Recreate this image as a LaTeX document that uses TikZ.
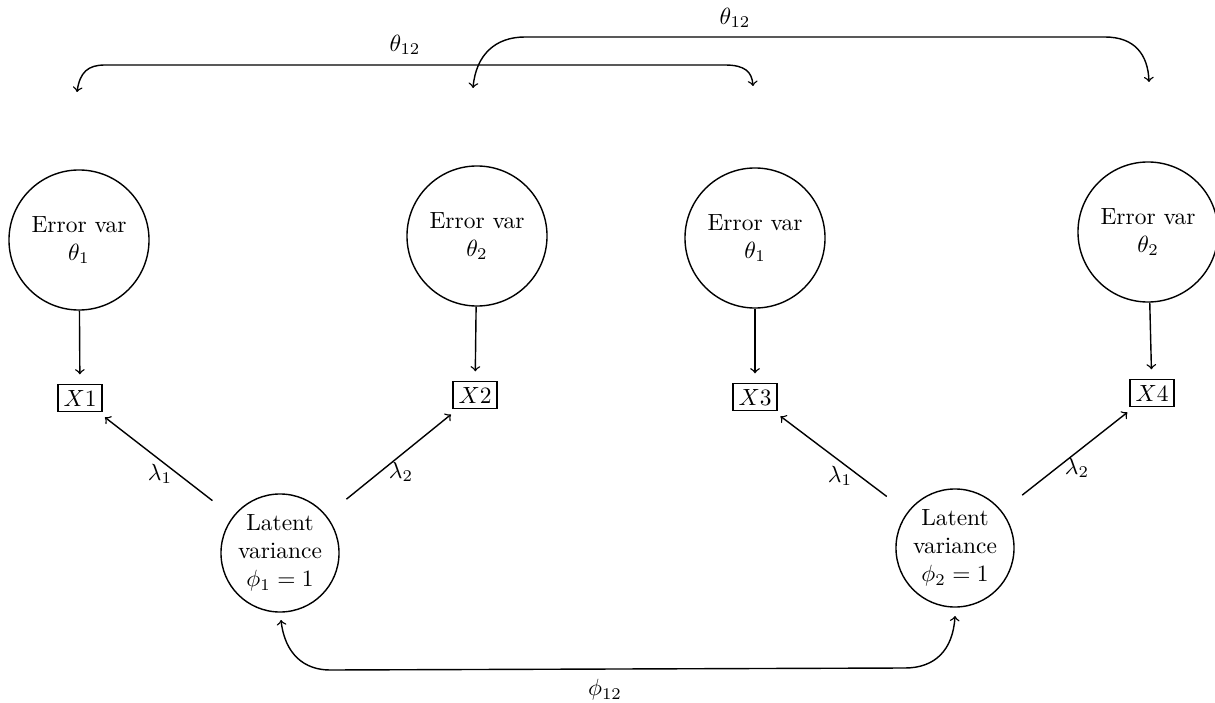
\documentclass[tikz,border=0pt]{standalone}
\begin{document}
\begin{tikzpicture}[x=0.427pt,y=-0.427pt,
  every path/.style={semithick},
  >=to,
  errnode/.style={circle,draw,semithick,minimum size=59.8pt,inner sep=0pt,align=center},
  latnode/.style={circle,draw,semithick,minimum size=50.4pt,inner sep=0pt,align=center},
  obsnode/.style={rectangle,draw,semithick,inner sep=2.4pt},
  lbl/.style={inner sep=1pt}]
\useasboundingbox (0,0) rectangle (1215,703);
% error variance nodes
\node[errnode] (e1) at (79,240) {Error var\\$\theta_1$};
\node[errnode] (e2) at (477,236) {Error var\\$\theta_2$};
\node[errnode] (e3) at (755,238) {Error var\\$\theta_1$};
\node[errnode] (e4) at (1148,232) {Error var\\$\theta_2$};
% observed
\node[obsnode] (x1) at (80,398) {$X1$};
\node[obsnode] (x2) at (475,395) {$X2$};
\node[obsnode] (x3) at (755,397) {$X3$};
\node[obsnode] (x4) at (1152,393) {$X4$};
% latent
\node[latnode] (l1) at (280,553) {Latent\\variance\\$\phi_1=1$};
\node[latnode] (l2) at (955,548) {Latent\\variance\\$\phi_2=1$};
% error -> X
\draw[->,shorten >=4pt] (e1) -- (x1);
\draw[->,shorten >=4pt] (e2) -- (x2);
\draw[->,shorten >=4pt] (e3) -- (x3);
\draw[->,shorten >=4pt] (e4) -- (x4);
% latent -> X
\draw[->,shorten <=11pt,shorten >=3.5pt] (l1) -- (x1);
\draw[->,shorten <=11pt,shorten >=3.5pt] (l1) -- (x2);
\draw[->,shorten <=11pt,shorten >=3.5pt] (l2) -- (x3);
\draw[->,shorten <=11pt,shorten >=3.5pt] (l2) -- (x4);
\node[lbl] (lam1) at (160,474) {$\lambda_1$};
\node[lbl] (lam2) at (401,472) {$\lambda_2$};
\node[lbl] (lam3) at (840,476) {$\lambda_1$};
\node[lbl] (lam4) at (1077,468) {$\lambda_2$};
% top covariance arcs
\coordinate (t1a) at (77,92);
\coordinate (t1b) at (753,86);
\coordinate (t2a) at (473,88);
\coordinate (t2b) at (1149,82);
\draw[<->] (t1a) .. controls (80,72) and (88,65) .. (105,65) -- (725,65) .. controls (745,65) and (752,72) .. (t1b);
\draw[<->] (t2a) .. controls (476,55) and (495,37) .. (525,37) -- (1105,37) .. controls (1135,37) and (1148,55) .. (t2b);
\node[lbl] (th1) at (405,45) {$\theta_{12}$};
\node[lbl] (th2) at (735,18) {$\theta_{12}$};
% bottom covariance arc
\coordinate (b1) at (281,620);
\coordinate (b2) at (955,616);
\draw[<->] (b1) .. controls (285,655) and (305,670) .. (330,670) -- (905,668) .. controls (935,668) and (953,650) .. (b2);
\node[lbl] (ph) at (605,690) {$\phi_{12}$};
\end{tikzpicture}
\end{document}
